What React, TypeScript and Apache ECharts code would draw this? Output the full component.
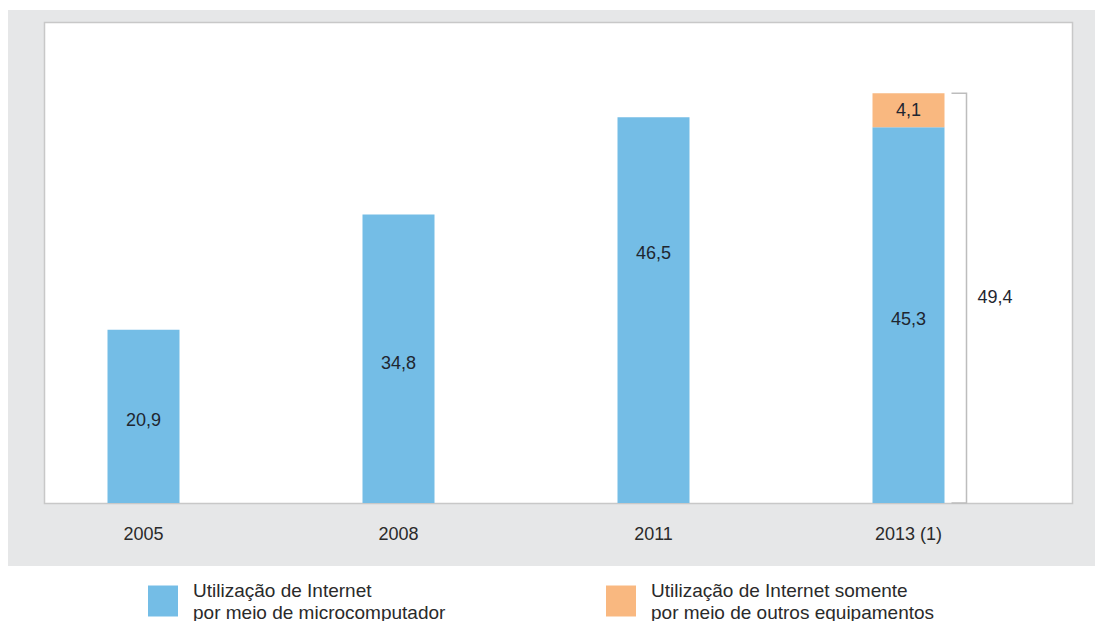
import React, { useEffect, useRef } from "react";
import * as echarts from "echarts";

const categories = ["2005", "2008", "2011", "2013 (1)"];
const microcomputador = [20.9, 34.8, 46.5, 45.3];
const outrosEquipamentos = [null, null, null, 4.1];
const totalLabel = "49,4";
const totalValue = 49.4;
const seriesNames = [
  "Utilização de Internet\npor meio de microcomputador",
  "Utilização de Internet somente\npor meio de outros equipamentos",
];
const BLUE = "#74BDE6";
const ORANGE = "#F9B880";
const FONT = "Liberation Sans, Arial, sans-serif";

const fmt = (v: number) => v.toFixed(1).replace(".", ",");

export default function App() {
  const ref = useRef<HTMLDivElement>(null);
  useEffect(() => {
    document.body.style.margin = "0";
    const chart = echarts.init(ref.current!, null, { renderer: "svg" });
    const labelOffsets: Record<number, number> = { 2: -57 };
    const legendBase = {
      top: 576,
      padding: 0,
      itemWidth: 30,
      itemHeight: 31,
      itemGap: 15,
      icon: "rect",
      textStyle: {
        fontSize: 19,
        color: "#2a2a2a",
        lineHeight: 22,
        fontFamily: FONT,
        padding: [6, 0, 0, 10],
      },
      selectedMode: false,
    };
    const option: any = {
      animation: false,
      backgroundColor: "#ffffff",
      textStyle: { fontFamily: FONT },
      grid: { left: 16, width: 1020, top: 22, height: 481 },
      xAxis: {
        type: "category",
        data: categories,
        axisLine: { show: false },
        axisTick: { show: false },
        axisLabel: { fontSize: 18, color: "#2a2a2a", margin: 22, fontFamily: FONT },
      },
      yAxis: {
        type: "value",
        min: 0,
        max: 58,
        show: false,
        splitLine: { show: false },
      },
      legend: [
        { ...legendBase, left: 148, data: [seriesNames[0]] },
        { ...legendBase, left: 606, data: [seriesNames[1]] },
      ],
      graphic: [
        {
          type: "rect",
          z: -20,
          silent: true,
          shape: { x: 8, y: 10, width: 1087, height: 556 },
          style: { fill: "#E6E7E8" },
        },
        {
          type: "rect",
          z: -19,
          silent: true,
          shape: { x: 44.5, y: 22.5, width: 1028, height: 481 },
          style: { fill: "#ffffff", stroke: "#C8C8C8", lineWidth: 1.5 },
        },
      ],
      series: [
        {
          name: seriesNames[0],
          type: "bar",
          stack: "total",
          barWidth: 72,
          itemStyle: { color: BLUE },
          data: microcomputador.map((v, i) => ({
            value: v,
            label: {
              show: true,
              position: "inside",
              offset: [0, labelOffsets[i] || 4],
              formatter: () => fmt(v),
              fontSize: 18,
              color: "#1f2630",
              fontFamily: FONT,
            },
          })),
        },
        {
          name: seriesNames[1],
          type: "bar",
          stack: "total",
          barWidth: 72,
          itemStyle: { color: ORANGE },
          label: {
            show: true,
            position: "inside",
            formatter: (p: any) => fmt(p.value),
            fontSize: 18,
            color: "#1f2630",
            fontFamily: FONT,
          },
          data: outrosEquipamentos,
        },
      ],
    };
    chart.setOption(option);
    const top = chart.convertToPixel({ gridIndex: 0 }, [categories[3], totalValue]) as number[];
    const bottom = chart.convertToPixel({ gridIndex: 0 }, [categories[3], 0]) as number[];
    const cx = top[0];
    chart.setOption({
      graphic: [
        option.graphic[0],
        option.graphic[1],
        {
          type: "polyline",
          silent: true,
          shape: {
            points: [
              [cx + 43, top[1]],
              [cx + 58, top[1]],
              [cx + 58, bottom[1]],
              [cx + 43, bottom[1]],
            ],
          },
          style: { stroke: "#BDBDBD", lineWidth: 1.5, fill: null },
        },
        {
          type: "text",
          silent: true,
          x: cx + 69,
          y: (top[1] + bottom[1]) / 2 - 1,
          style: {
            text: totalLabel,
            fontSize: 18,
            fill: "#1f2630",
            fontFamily: FONT,
            verticalAlign: "middle",
            align: "left",
          },
        },
      ],
    });
    return () => chart.dispose();
  }, []);
  return <div ref={ref} style={{ width: 1103, height: 621 }} />;
}
